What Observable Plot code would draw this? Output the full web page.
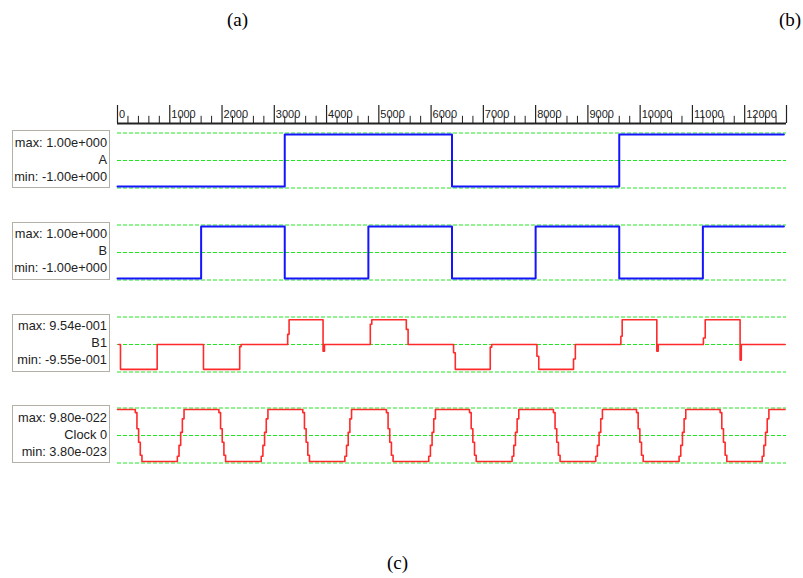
<!DOCTYPE html>
<html><head><meta charset="utf-8">
<script src="https://cdn.jsdelivr.net/npm/d3@7"></script>
<script src="https://cdn.jsdelivr.net/npm/@observablehq/plot@0.6"></script>
<style>
html,body{margin:0;padding:0;background:#fff;}
#root{position:relative;width:803px;height:578px;overflow:hidden;font-family:"Liberation Sans",Arial,sans-serif;}
.cap{position:absolute;font-family:"Liberation Serif","Times New Roman",serif;font-size:19px;color:#000;line-height:22px;}
.box{position:absolute;left:12px;width:96px;height:56px;border:1.5px solid #b4b0a8;background:#fff;font-size:12.8px;color:#222;}
.box div{position:absolute;right:2px;line-height:14px;white-space:nowrap;}
.panel{position:absolute;left:0;}
.panel svg{display:block;}
</style></head><body><div id="root"></div>
<script>
// ---------- data ----------
const xMax = 12800;
const majorTicks = [0,1000,2000,3000,4000,5000,6000,7000,8000,9000,10000,11000,12000];
const minorStep = 200;

const names = ["A", "B", "B1", "Clock 0"];
const maxLabels = ["1.00e+000", "1.00e+000", "9.54e-001", "9.80e-022"];
const minLabels = ["-1.00e+000", "-1.00e+000", "-9.55e-001", "3.80e-023"];

// Signal A (step-after)
const aT = [0, 3200, 6400, 9600, 12750];
const aV = [-1, 1, -1, 1, 1];
// Signal B (step-after)
const bT = [0, 1600, 3200, 4800, 6400, 8000, 9600, 11200, 12750];
const bV = [-1, 1, -1, 1, -1, 1, -1, 1, 1];
// Signal B1 (step-after)
const b1T = [25, 57, 759, 1645, 2338, 2365, 3256, 3283, 3933, 3960, 4837, 4865, 5526, 5560, 6430, 6463, 7132, 7160, 8025, 8060, 8725, 8760, 9631, 9656, 10319, 10345, 11210, 11245, 11912, 11935, 12772];
const b1V = [0, -0.955, 0, -0.955, -0.08, 0, 0.39, 0.954, -0.26, 0, 0.78, 0.954, 0.58, 0, -0.32, -0.955, -0.1, 0, -0.45, -0.955, -0.56, 0, 0.32, 0.954, -0.26, 0, 0.25, 0.954, -0.6, 0, 0];
// Clock 0: edge start times and staircase shape of each edge (fraction between min and max)
const clockFall = [340, 1940, 3545, 5145, 6735, 8340, 9930, 11530];
const clockRise = [1145, 2750, 4350, 5955, 7550, 9150, 10745, 12335];
const edgeDt = [0, 32, 64, 96, 128];
const fallLevels = [0.94, 0.63, 0.37, 0.12, 0];
const riseLevels = [0.1, 0.31, 0.56, 0.82, 1];
const clockEnd = 12772;

// ---------- build tables ----------
const zip = (T, V) => T.map((t, i) => ({t, v: V[i]}));
const clockData = [{t: 0, v: 1}];
const edges = [...clockFall.map(t => ({t, L: fallLevels})), ...clockRise.map(t => ({t, L: riseLevels}))].sort((a, b) => a.t - b.t);
for (const e of edges) edgeDt.forEach((dt, i) => clockData.push({t: e.t + dt, v: e.L[i]}));
clockData.push({t: clockEnd, v: clockData[clockData.length - 1].v});

const signals = [
  {data: zip(aT, aV), color: "#1414ff", width: 2, domain: [-1, 1]},
  {data: zip(bT, bV), color: "#1414ff", width: 2, domain: [-1, 1]},
  {data: zip(b1T, b1V), color: "#ff2a2a", width: 1.6, domain: [-1, 1]},
  {data: clockData, color: "#ff2a2a", width: 1.6, domain: [0, 1]}
];
const mids = [160, 251.7, 343.7, 435];

const root = document.getElementById("root");
const green = "#22e622";

// ---------- captions ----------
function cap(text, left, top) {
  const d = document.createElement("div");
  d.className = "cap"; d.textContent = text;
  d.style.left = left + "px"; d.style.top = top + "px";
  root.appendChild(d);
}
cap("(a)", 227, 9);
cap("(b)", 779, 9);
cap("(c)", 387, 552);

// ---------- time axis ----------
const minorTicks = d3.range(0, xMax, minorStep).filter(t => t % 1000 !== 0);
const axis = Plot.plot({
  width: 803, height: 26,
  marginLeft: 117, marginRight: 17, marginTop: 5, marginBottom: 3,
  x: {domain: [0, xMax], axis: null},
  y: {domain: [0, 1], axis: null},
  marks: [
    Plot.ruleX(minorTicks, {y1: 0, y2: 0.4, stroke: "#222", strokeWidth: 1}),
    Plot.ruleX(majorTicks, {y1: 0, y2: 1, stroke: "#222", strokeWidth: 1.2}),
    Plot.ruleX([xMax], {y1: 0, y2: 1, stroke: "#222", strokeWidth: 1.2}),
    Plot.ruleY([0], {stroke: "#222", strokeWidth: 2}),
    Plot.text(majorTicks, {x: d => d, y: 0.5, text: d => String(d), textAnchor: "start", dx: 1.5, fontSize: 11, fill: "#222", fontFamily: "Liberation Sans, Arial, sans-serif"})
  ]
});
const axDiv = document.createElement("div");
axDiv.className = "panel"; axDiv.style.top = "100px";
axDiv.appendChild(axis); root.appendChild(axDiv);

// ---------- panels ----------
signals.forEach((s, i) => {
  const M = mids[i];
  const mid = (s.domain[0] + s.domain[1]) / 2;
  const svg = Plot.plot({
    width: 803, height: 70,
    marginLeft: 117, marginRight: 17, marginTop: 9, marginBottom: 9,
    x: {domain: [0, xMax], axis: null},
    y: {domain: s.domain, axis: null},
    marks: [
      Plot.ruleY([s.domain[1]], {stroke: green, strokeDasharray: "4,2", strokeWidth: 1, dy: -1.5}),
      Plot.ruleY([mid], {stroke: green, strokeDasharray: "4,2", strokeWidth: 1}),
      Plot.ruleY([s.domain[0]], {stroke: green, strokeDasharray: "4,2", strokeWidth: 1, dy: 1.5}),
      Plot.line(s.data, {x: "t", y: "v", curve: "step-after", stroke: s.color, strokeWidth: s.width})
    ]
  });
  const pd = document.createElement("div");
  pd.className = "panel"; pd.style.top = (M - 35) + "px";
  pd.appendChild(svg); root.appendChild(pd);

  const box = document.createElement("div");
  box.className = "box"; box.style.top = (M - 30) + "px";
  [["max: " + maxLabels[i], 4.5], [names[i], 21.5], ["min: " + minLabels[i], 38.5]].forEach(([t, y]) => {
    const r = document.createElement("div");
    r.textContent = t; r.style.top = y + "px";
    box.appendChild(r);
  });
  root.appendChild(box);
});
</script></body></html>
